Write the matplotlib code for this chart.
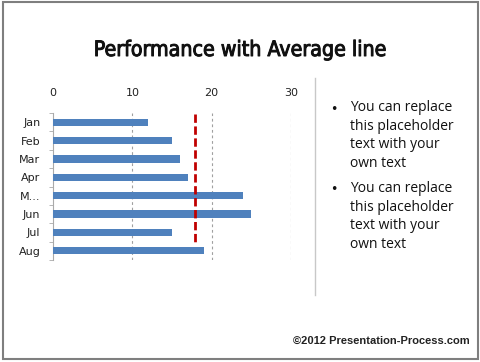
import matplotlib.pyplot as plt
import matplotlib.patheffects as pe
from matplotlib.lines import Line2D
from matplotlib.patches import Rectangle

months = ["Jan", "Feb", "Mar", "Apr", "M...", "Jun", "Jul", "Aug"]
values = [12, 15, 16, 17, 24, 25, 15, 19]
average = sum(values) / len(values)
x_ticks = [0, 10, 20, 30]
bullets = [
    "You can replace\nthis placeholder\ntext with your\nown text",
    "You can replace\nthis placeholder\ntext with your\nown text",
]
title = "Performance with Average line"
credit = "\u00a92012 Presentation-Process.com"

W, H = 480, 362
fig = plt.figure(figsize=(W / 100, H / 100), dpi=100)
fig.patch.set_facecolor("white")

# outer frame
fig.add_artist(Rectangle((2.5 / W, 1 - 359 / H), 475 / W, 357 / H,
                         transform=fig.transFigure, fill=False,
                         edgecolor="#7f7f7f", linewidth=1.5))
# vertical separator
fig.add_artist(Line2D([315 / W, 315 / W], [1 - 78 / H, 1 - 295 / H],
                      transform=fig.transFigure, color="#c8c8c8", linewidth=1))

# condensed title, thickened a little with a stroke
fig.text(240 / W, 1 - 50 / H, title, ha="center", va="center",
         fontsize=15.3, family="DejaVu Sans", fontstretch="condensed",
         color="#111111",
         path_effects=[pe.withStroke(linewidth=0.7, foreground="#111111")])

ax = fig.add_axes([53 / W, 1 - 260 / H, (291 - 53) / W, (260 - 113) / H])
ypos = list(range(len(months)))
ax.barh(ypos, values, height=0.4, color="#4f81bd", zorder=3)
ax.plot([average, average], [-0.45, 6.55], color="#c00000",
        linestyle=(0, (3, 1.3)), linewidth=2, zorder=4)

ax.set_xlim(0, 30)
ax.set_ylim(len(months) - 0.5, -0.5)
ax.set_xticks(x_ticks)
ax.xaxis.tick_top()
ax.tick_params(axis="x", length=0, labelsize=8, pad=11, colors="#222222")
ax.set_yticks(ypos)
ax.set_yticklabels(months)
ax.tick_params(axis="y", length=0, labelsize=8, pad=9, colors="#222222")
ax.set_yticks([i - 0.5 for i in range(len(months) + 1)], minor=True)
ax.tick_params(axis="y", which="minor", length=3, color="#aaaaaa")
for xv in x_ticks[1:]:
    ax.axvline(xv, color="#a0a0a0", linestyle=(0, (2.5, 2.5)), linewidth=0.8, zorder=1)
for side in ["top", "right", "bottom"]:
    ax.spines[side].set_visible(False)
ax.spines["left"].set_color("#aaaaaa")
ax.spines["left"].set_linewidth(0.8)

ytop = [109, 190]
for yt, txt in zip(ytop, bullets):
    fig.text(334 / W, 1 - yt / H, "\u2022", ha="center", va="center",
             fontsize=9, color="#111111")
    fig.text(350 / W, 1 - (yt - 9) / H, txt, ha="left", va="top",
             fontsize=10, linespacing=1.32, family="Open Sans", color="#111111")

fig.text(470 / W, 1 - 341 / H, credit, ha="right", va="center",
         fontsize=8, fontweight="bold", family="Liberation Sans", color="#222222")

fig.savefig("out.png", dpi=100)
